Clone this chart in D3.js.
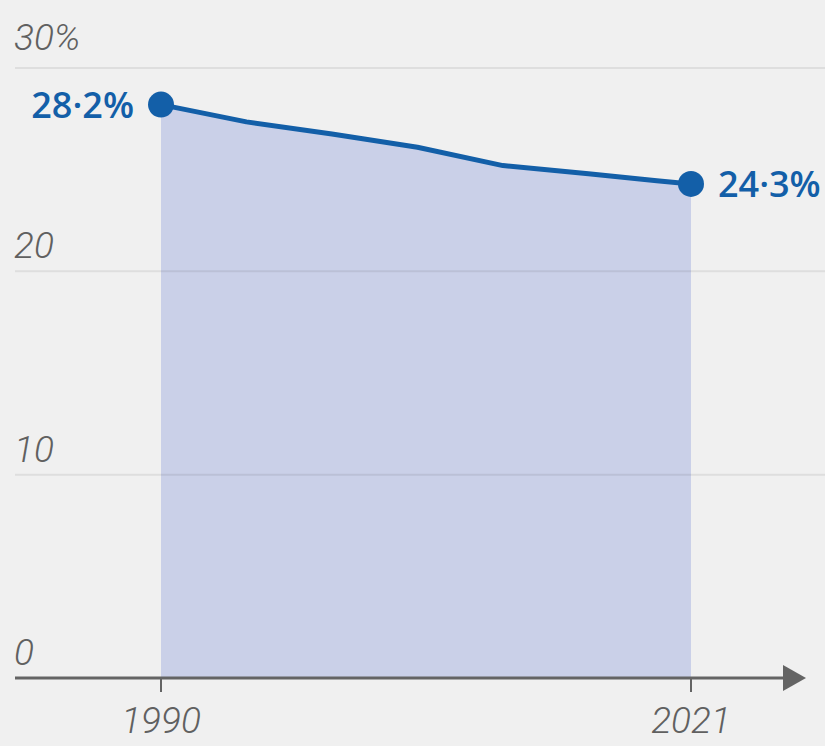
<!DOCTYPE html>
<html>
<head>
<meta charset="utf-8">
<script src="https://cdn.jsdelivr.net/npm/d3@7"></script>
<style>
  html, body { margin: 0; padding: 0; background: #f0f0f0; }
  svg { display: block; }
  .tick-label { font-family: Roboto, sans-serif; font-style: italic; font-weight: 300; fill: #606060; }
  .value-label { font-family: "Open Sans", sans-serif; font-weight: 600; fill: #135fa8; }
</style>
</head>
<body>
<div id="chart"></div>
<script>
// data
const years = [1990, 1995, 2000, 2005, 2010, 2015, 2019, 2021];
const shares = [28.2, 27.35, 26.75, 26.1, 25.2, 24.8, 24.45, 24.3];
const yTicks = [0, 10, 20, 30];
const xTicks = [1990, 2021];

const totalWidth = 825;
const totalHeight = 746;

let x = d3.scaleLinear().domain([1990, 2021]).range([161, 691]);
let y = d3.scaleLinear().domain([0, 30]).range([678, 68]);

let data = years.map(function(yr, i) {
  return {year: yr, value: shares[i]};
});

let svg = d3.select('#chart')
  .append('svg')
    .attr('width', totalWidth)
    .attr('height', totalHeight);

svg.append('rect')
    .attr('width', totalWidth)
    .attr('height', totalHeight)
    .attr('fill', '#f0f0f0');

// area under the line
let area = d3.area()
  .x(function(d) { return x(d.year); })
  .y0(y(0))
  .y1(function(d) { return y(d.value); });

svg.append('path')
    .datum(data)
    .attr('d', area)
    .attr('fill', '#cad0e8');

// gridlines
svg.selectAll('.grid')
  .data(yTicks.filter(function(t) { return t > 0; }))
  .enter().append('line')
    .attr('class', 'grid')
    .attr('x1', 15)
    .attr('x2', totalWidth)
    .attr('y1', function(d) { return y(d); })
    .attr('y2', function(d) { return y(d); })
    .attr('stroke', 'rgba(0,0,0,0.075)')
    .attr('stroke-width', 2);

// y labels
svg.selectAll('.y-label')
  .data(yTicks)
  .enter().append('text')
    .attr('class', 'tick-label')
    .attr('x', 14)
    .attr('y', function(d) { return y(d) - (d === 30 ? 18 : 13); })
    .attr('font-size', 37)
    .text(function(d) { return d === 30 ? d + '%' : d; });

// x axis with arrow
let axisG = svg.append('g')
    .attr('transform', 'translate(0,' + y(0) + ')');

axisG.append('line')
    .attr('x1', 15)
    .attr('x2', 790)
    .attr('stroke', '#646464')
    .attr('stroke-width', 3);

axisG.append('path')
    .attr('d', 'M783,-13L806,0L783,13Z')
    .attr('fill', '#646464');

axisG.selectAll('.x-tick')
  .data(xTicks)
  .enter().append('line')
    .attr('class', 'x-tick')
    .attr('x1', function(d) { return x(d); })
    .attr('x2', function(d) { return x(d); })
    .attr('y1', 0)
    .attr('y2', 14)
    .attr('stroke', '#646464')
    .attr('stroke-width', 2);

axisG.selectAll('.x-label')
  .data(xTicks)
  .enter().append('text')
    .attr('class', 'tick-label')
    .attr('x', function(d) { return x(d); })
    .attr('y', 55)
    .attr('text-anchor', 'middle')
    .attr('font-size', 37)
    .text(function(d) { return d; });

// line
let line = d3.line()
  .x(function(d) { return x(d.year); })
  .y(function(d) { return y(d.value); });

svg.append('path')
    .datum(data)
    .attr('d', line)
    .attr('fill', 'none')
    .attr('stroke', '#135fa8')
    .attr('stroke-width', 5)
    .attr('stroke-linejoin', 'round');

// end points and labels
let ends = [data[0], data[data.length - 1]];

svg.selectAll('.end-point')
  .data(ends)
  .enter().append('circle')
    .attr('class', 'end-point')
    .attr('cx', function(d) { return x(d.year); })
    .attr('cy', function(d) { return y(d.value); })
    .attr('r', 13)
    .attr('fill', '#135fa8');

svg.selectAll('.value-label')
  .data(ends)
  .enter().append('text')
    .attr('class', 'value-label')
    .attr('x', function(d, i) { return i === 0 ? x(d.year) - 27 : x(d.year) + 27; })
    .attr('y', function(d) { return y(d.value) + 13; })
    .attr('text-anchor', function(d, i) { return i === 0 ? 'end' : 'start'; })
    .attr('font-size', 36)
    .text(function(d) { return d3.format('.1f')(d.value).replace('.', '·') + '%'; });
</script>
</body>
</html>
